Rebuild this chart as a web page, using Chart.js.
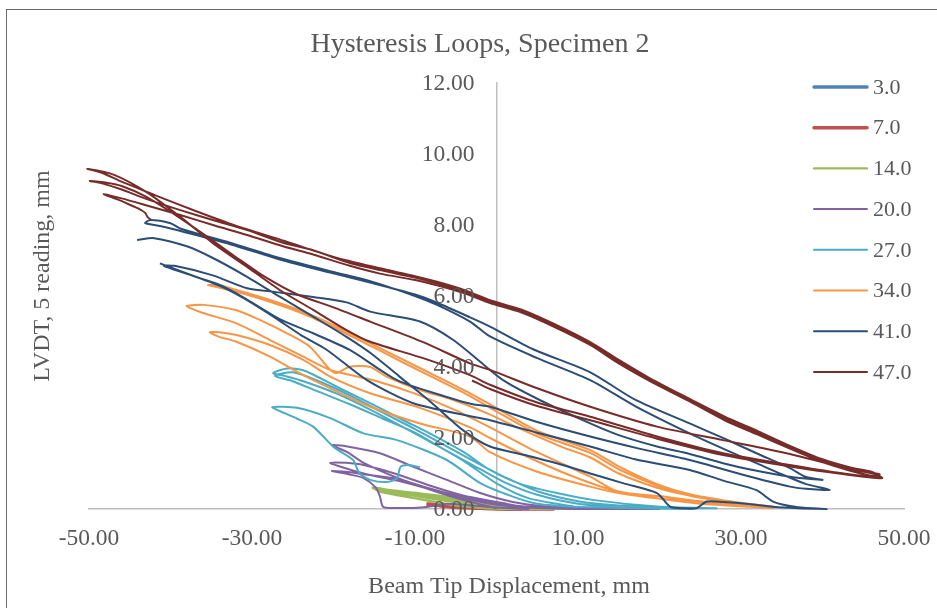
<!DOCTYPE html>
<html>
<head>
<meta charset="utf-8">
<script src="https://cdn.jsdelivr.net/npm/chart.js@4.4.1/dist/chart.umd.min.js"></script>
<style>
  html, body { margin: 0; padding: 0; background: #ffffff; overflow: hidden; }
  #frame { position: absolute; left: 6px; top: 9px; width: 1000px; height: 700px; border: 1px solid #6b6b6b; z-index: 0; }
  #c { position: absolute; left: 0; top: 0; z-index: 1; }
</style>
</head>
<body>
<div id="frame"></div>
<canvas id="c" width="937" height="608"></canvas>
<script>
// ---------------- DATA ----------------
const chartTitle = 'Hysteresis Loops, Specimen 2';
const xAxisTitle = 'Beam Tip Displacement, mm';
const yAxisTitle = 'LVDT, 5 reading, mm';
const seriesNames = ['3.0', '7.0', '14.0', '20.0', '27.0', '34.0', '41.0', '47.0'];
const xTickValues = [-50, -30, -10, 10, 30, 50];
const yTickValues = [0, 2, 4, 6, 8, 10, 12];

const loop3 = [[-2.8,0.03],[-1.5,0.1],[-0.3,0.16],[0.8,0.15],[1.8,0.06],[3.0,0.0],[1.5,0.0],[0,0.03],[-1.5,0.04],[-2.8,0.03]];

const loop7 = [[-8.6,0.14],[-7.6,0.13],[-6.2,0.1],[-4.5,0.06],[-2.5,0.03],[0,0.01],[3,0],[7,0],[4,0],[1,0],[-2,0.02],[-4.5,0.04],[-6.5,0.08],[-8,0.12],[-8.6,0.14]];

const loop14 = [[0,0.0],[-3,0.15],[-6,0.28],[-9,0.4],[-12,0.5],[-14.5,0.58],[-15.2,0.6],[-14.8,0.55],[-12,0.44],[-9,0.34],[-6,0.24],[-3,0.12],[0,0.04],[4,0.01],[9,0.0],[14,0.0],[10,0.0],[5,0.02],[1,0.06],[-2.9,0.21],[-6.1,0.35],[-10.2,0.46],[-13,0.53],[-15.1,0.6],[-14.3,0.49],[-10.2,0.31],[-7,0.18],[-4.1,0.07],[-1,0.02],[3,0.0],[8,0.0],[13,0.0],[9,0.0],[4,0.01],[0,0.07],[-3,0.18],[-6,0.3],[-9,0.41],[-12,0.5],[-14.5,0.56],[-13.5,0.5],[-10,0.37],[-6,0.22],[-2,0.08],[1,0.02]];

const loop20 = [[0,0.02],[-4,0.25],[-8.2,0.55],[-12.2,0.88],[-16.3,1.3],[-18.3,1.6],[-20.2,1.8],[-18.3,1.76],[-14.3,1.57],[-10.2,1.19],[-6.1,0.82],[-2,0.45],[2,0.2],[6,0.08],[12,0.02],[20,0.0],[14,0.0],[8,0.02],[3,0.08],[0,0.2],[-4.1,0.38],[-8.2,0.66],[-12.2,0.98],[-16.3,1.24],[-18.5,1.3],[-20.4,1.3],[-19.5,1.22],[-16.3,1.0],[-12.2,0.8],[-8.2,0.56],[-4,0.3],[0,0.12],[5,0.03],[15,0.0],[10,0.0],[5,0.04],[0,0.16],[-4.1,0.33],[-8.2,0.58],[-12.2,0.85],[-16.3,0.98],[-18.5,1.05],[-20.2,1.07],[-18,0.97],[-16.3,0.87],[-14.8,0.6],[-14.3,0.35],[-13.9,0.06],[-12,0.03],[-10.2,0.03],[-8,0.08],[-6.1,0.15],[-3,0.1],[0,0.04],[4,0.0]];

const loop27 = [[10,0.05],[4,0.3],[0,0.72],[-4,1.35],[-8.2,1.9],[-11.4,2.3],[-15.5,2.8],[-19.6,3.25],[-23.7,3.6],[-26,3.75],[-27.4,3.83],[-25.7,3.96],[-23.7,3.91],[-19.6,3.45],[-15.5,2.98],[-11.4,2.5],[-8.2,2.13],[-4,1.6],[-0.8,1.1],[3,0.7],[7.4,0.45],[12,0.25],[19.7,0.07],[27,0.02],[22,0.03],[15,0.1],[10,0.22],[5,0.5],[1,0.9],[-2,1.25],[-6,1.75],[-10,2.25],[-14,2.72],[-18,3.2],[-22,3.62],[-25,3.85],[-27.2,3.75],[-25,3.6],[-22,3.32],[-18,2.95],[-14,2.55],[-10,2.15],[-6,1.62],[-2,1.12],[1,0.75],[5,0.4],[10,0.15],[16,0.05],[24,0.0],[18,0.02],[10,0.06],[5,0.15],[2,0.35],[-2,0.73],[-6.1,1.38],[-12.2,1.94],[-16.3,2.13],[-20.4,2.56],[-24.5,2.85],[-27.5,2.87],[-26,2.7],[-24.5,2.55],[-22.5,2.32],[-20,1.75],[-17.6,1.38],[-16.8,1.0],[-15.5,0.82],[-13.4,0.76],[-12.2,0.87],[-11.8,1.18],[-11,1.24],[-9.4,1.18]];

const loop34 = [[34.5,0.05],[28,0.22],[24,0.36],[19.7,0.66],[15,1.12],[11.5,1.58],[5,2.12],[-0.8,2.85],[-3.25,3.18],[-7.3,3.65],[-11.4,4.12],[-15.5,4.6],[-19.6,5.07],[-23.7,5.5],[-27.8,5.84],[-31.9,6.12],[-34.5,6.26],[-35.4,6.31],
  [-34,6.3],[-31.9,6.17],[-27.8,5.89],[-23.7,5.56],[-19.6,5.14],[-15.5,4.67],[-11.4,4.2],[-7.3,3.73],[-3.25,3.26],[-0.8,2.95],[5,2.2],[11.5,1.66],[15,1.2],[19.7,0.7],[24,0.4],[27.8,0.25],[33.2,0.07],
  [30,0.12],[25,0.22],[20.9,0.34],[14.8,0.5],[11.5,0.91],[5,1.6],[-0.8,2.3],[-5,2.78],[-10,3.25],[-15,3.62],[-20.4,3.92],
  [-23.7,4.29],[-27.8,4.76],[-31.9,5.23],[-36,5.52],[-37.5,5.65],[-38,5.72],
  [-36,5.75],[-31.9,5.6],[-28.6,5.28],[-25.7,4.95],[-22.9,4.57],[-20.4,3.92],[-19.6,3.83],[-18,4.01],[-15.5,4.0],[-13.5,3.73],[-9.4,3.35],[-5.3,3.07],[-1.2,2.7],[3,2.25],[8,1.75],[11.5,1.45],[15,1.0],[19.7,0.6],[23.7,0.38],[27.8,0.22],[34,0.03],
  [30,0.08],[25,0.15],[19.7,0.3],[14,0.55],[9,0.95],[4,1.45],[-0.8,2.0],[-3.25,2.3],[-9.4,2.85],[-15.5,3.26],[-20.4,3.73],[-23.7,4.2],[-27.8,4.62],[-31.9,4.9],[-34,4.98],[-35.2,4.98],
  [-34,4.85],[-31.9,4.71],[-27.8,4.29],[-23.7,3.77],[-20.4,3.4],[-15.5,2.88],[-9.4,2.41],[-3.25,2.04],[-0.8,1.6],[5,1.05],[11.5,0.63],[15,0.45],[19.7,0.3],[27,0.15],[34,0.02]];

const loop41 = [[-44.1,7.58],[-42,7.63],[-38,7.4],[-34.8,7.07],[-30.6,6.54],[-26.6,5.98],[-22.5,5.42],[-18.4,4.85],[-15.5,4.4],[-12,3.75],[-8,3.0],[-4,2.2],[-0.8,1.76],[3.5,1.52],[7.4,1.29],[11.5,1.0],[15.5,0.73],[19.7,0.45],[21.3,0.07],[23,0.02],[24.6,0.03],[25.8,0.21],[27.8,0.2],[31,0.14],[33.9,0.06],[37,0.02],[40.5,0.0],
  [37,0.05],[34,0.2],[31.9,0.53],[27.8,0.8],[23.7,1.1],[17,1.4],[11.5,1.76],[5,2.15],[-0.8,2.5],[-2.9,2.6],[-10.2,2.98],[-15.9,3.63],[-20.8,4.48],[-24,4.9],[-26.6,5.3],[-30.6,5.88],[-33.6,6.25],[-37,6.55],[-40.8,6.85],
  [-39.5,6.85],[-34.8,6.58],[-30.6,6.22],[-26.6,6.1],[-22.5,5.97],[-18.4,5.82],[-15.5,5.56],[-9.4,5.28],[-5.3,4.76],[-1.5,4.05],[1,3.6],[5.3,3.07],[11.5,2.41],[15,2.08],[19.7,1.76],[23.7,1.55],[27.8,1.29],[31,1.12],[36,0.91],[40,0.82],
  [38,0.9],[36,1.15],[31.9,1.57],[28,1.98],[23.7,2.41],[17,3.08],[11.5,3.85],[4.5,4.5],[-0.8,5.14],[-3.25,5.4],[-7.3,5.81],[-10,6.04],[-15.5,6.38],[-20.4,6.66],[-26.6,7.03],[-32.7,7.46],[-38.8,7.83],[-41,7.96],[-43.1,8.05],[-42.5,8.14],
  [-40,8.05],[-38.8,7.9],[-32.7,7.5],[-26.6,7.07],[-20.4,6.7],[-15.5,6.42],[-10,6.0],[-7.3,5.75],[-3.25,5.28],[-0.8,4.86],[5,4.25],[11.5,3.63],[17,2.9],[23.7,2.13],[28,1.68],[31.9,1.29],[35,0.98],[38,0.7],[40.9,0.54],
  [38,0.57],[36,0.63],[30,0.98],[23.7,1.38],[17.5,1.7],[11.5,2.04],[5,2.45],[-0.8,2.88],[-2.9,2.95],[-6,3.15],[-12.2,3.63],[-18,4.48],[-22.5,4.95],[-26.6,5.35],[-30.6,5.9],[-33.6,6.28],[-37,6.55],[-41.3,6.92]];

const loop47 = [[-3,3.62],[-0.8,3.38],[5,2.9],[11.5,2.5],[19.7,1.98],[27.8,1.52],[36,1.2],[42,1.0],[47.3,0.87],
  [46,1.05],[43.4,1.17],[40,1.4],[36,1.78],[32,2.2],[28,2.6],[23.7,3.1],[19,3.66],[15,4.2],[11.5,4.7],[7,5.22],[3,5.62],[-0.8,5.88],[-4,6.17],[-7.3,6.4],[-10,6.56],[-14.3,6.78],[-20,7.1],[-26,7.55],[-32,7.98],[-37,8.4],[-42,8.85],[-46,9.22],[-48.5,9.48],[-50.2,9.58],
  [-47,9.42],[-42.9,8.92],[-38.8,8.23],[-34.8,7.49],[-30.6,6.82],[-26.6,6.17],[-22.5,5.61],[-18.4,5.04],[-15.5,4.71],[-9,4.25],[-3.25,3.77],[-0.8,3.5],[5,3.0],[11.5,2.6],[19.7,2.04],[27.8,1.57],[36,1.24],[42,1.02],[47.3,0.87],
  [46.5,0.98],[43.4,1.12],[40,1.36],[36,1.74],[32,2.15],[28,2.55],[23.7,3.07],[19,3.62],[15,4.15],[11.5,4.66],[7,5.18],[3,5.58],[-0.8,5.84],[-4,6.12],[-7.3,6.36],[-10,6.52],[-14.3,6.73],[-18,6.93],[-22.5,7.29],[-26.2,7.5],[-30.6,7.86],[-34.5,8.12],[-38.8,8.42],[-42.9,8.73],[-46,9.0],[-48.5,9.18],[-49.9,9.24],
  [-48,9.2],[-46,9.1],[-43,8.8],[-39.5,8.3],[-36,7.75],[-32,7.1],[-28.5,6.55],[-24.5,6.05],[-20,5.68],[-15.5,5.28],[-9,4.7],[-3.25,4.1],[-0.8,3.92],[5,3.4],[11.5,2.88],[19.7,2.32],[27.8,1.94],[36,1.55],[42,1.2],[47,0.98],
  [46.5,0.92],[43.4,1.08],[40,1.32],[36,1.7],[32,2.1],[28,2.5],[23.7,3.03],[19,3.58],[15,4.1],[11.5,4.62],[7,5.14],[3,5.54],[-0.8,5.8],[-4,6.08],[-7.3,6.3],[-10,6.45],[-14.3,6.63],[-18,6.85],[-22.5,7.17],[-26.2,7.4],[-30.6,7.72],[-34.5,7.98],[-38.8,8.28],[-42.9,8.55],[-46,8.75],[-48.2,8.87],
  [-46.5,8.72],[-44.5,8.52],[-44.1,8.48],[-43.6,8.42],[-43.1,8.34],[-42.8,8.22],[-42.4,8.15]];

const seriesData = [loop3, loop7, loop14, loop20, loop27, loop34, loop41, loop47];

// ---------------- STYLE ----------------
const seriesColors = ['#4F81BD', '#C0504D', '#9BBB59', '#8064A2', '#4BACC6', '#F79646', '#2C4D75', '#772C2A'];
const seriesWidths = [3.5, 3.5, 2.2, 2, 2, 2, 2, 2];
const FONT = '"Liberation Serif", "Times New Roman", serif';
const TEXT = '#595959';
const AXIS = '#BFBFBF';
const fmt = v => Number(v).toFixed(2);

const datasets = seriesData.map((pts, i) => ({
  label: seriesNames[i],
  data: pts.map(p => ({ x: p[0], y: p[1] })),
  showLine: true,
  borderColor: seriesColors[i],
  backgroundColor: seriesColors[i],
  borderWidth: seriesWidths[i],
  pointRadius: 0,
  pointHoverRadius: 0,
  tension: 0.25,
  fill: false,
  clip: 4,
  order: seriesNames.length - 1 - i
}));

const textPlugin = {
  id: 'excelText',
  afterDraw(chart) {
    const ctx = chart.ctx;
    const xs = chart.scales.x, ys = chart.scales.y;
    ctx.save();
    ctx.fillStyle = TEXT;
    ctx.textBaseline = 'middle';
    // y tick labels beside the vertical axis at x = 0
    ctx.font = '23.5px ' + FONT;
    ctx.textAlign = 'right';
    const axisX = xs.getPixelForValue(0);
    yTickValues.forEach(v => ctx.fillText(fmt(v), axisX - 22, ys.getPixelForValue(v) + 1));
    // title
    ctx.font = '28px ' + FONT;
    ctx.textAlign = 'center';
    ctx.fillText(chartTitle, 480, 45);
    // x axis title
    ctx.font = '24px ' + FONT;
    ctx.fillText(xAxisTitle, 509, 587);
    // y axis title
    ctx.save();
    ctx.translate(43, 276);
    ctx.rotate(-Math.PI / 2);
    ctx.fillText(yAxisTitle, 0, 0);
    ctx.restore();
    // legend
    ctx.font = '22px ' + FONT;
    ctx.textAlign = 'left';
    seriesNames.forEach((name, i) => {
      const y = 87 + i * 40.7;
      ctx.strokeStyle = seriesColors[i];
      ctx.lineWidth = seriesWidths[i];
      ctx.lineCap = 'round';
      ctx.beginPath();
      ctx.moveTo(814, y);
      ctx.lineTo(867, y);
      ctx.stroke();
      ctx.fillStyle = TEXT;
      ctx.fillText(name, 873, y + 1);
    });
    ctx.restore();
  }
};

new Chart(document.getElementById('c'), {
  type: 'scatter',
  data: { datasets },
  plugins: [textPlugin],
  options: {
    responsive: false,
    animation: false,
    devicePixelRatio: 1,
    layout: { padding: { left: 89, right: 33, top: 83, bottom: 0 } },
    plugins: { legend: { display: false }, title: { display: false }, tooltip: { enabled: false } },
    scales: {
      x: {
        type: 'linear', position: 'bottom', min: -50, max: 50,
        afterBuildTicks: s => { s.ticks = xTickValues.map(v => ({ value: v })); },
        afterFit: s => { s.height = 99; s.paddingLeft = 0; s.paddingRight = 0; },
        ticks: { callback: fmt, font: { family: FONT, size: 23.5 }, color: TEXT, padding: 16, maxRotation: 0, autoSkip: false },
        grid: { display: false, drawTicks: false },
        border: { display: true, color: AXIS, width: 1.5 }
      },
      y: {
        type: 'linear', position: { x: 0 }, min: 0, max: 12,
        afterBuildTicks: s => { s.ticks = yTickValues.map(v => ({ value: v })); },
        ticks: { display: false },
        grid: { display: false, drawTicks: false },
        border: { display: true, color: AXIS, width: 1.5 }
      }
    }
  }
});
</script>
</body>
</html>
